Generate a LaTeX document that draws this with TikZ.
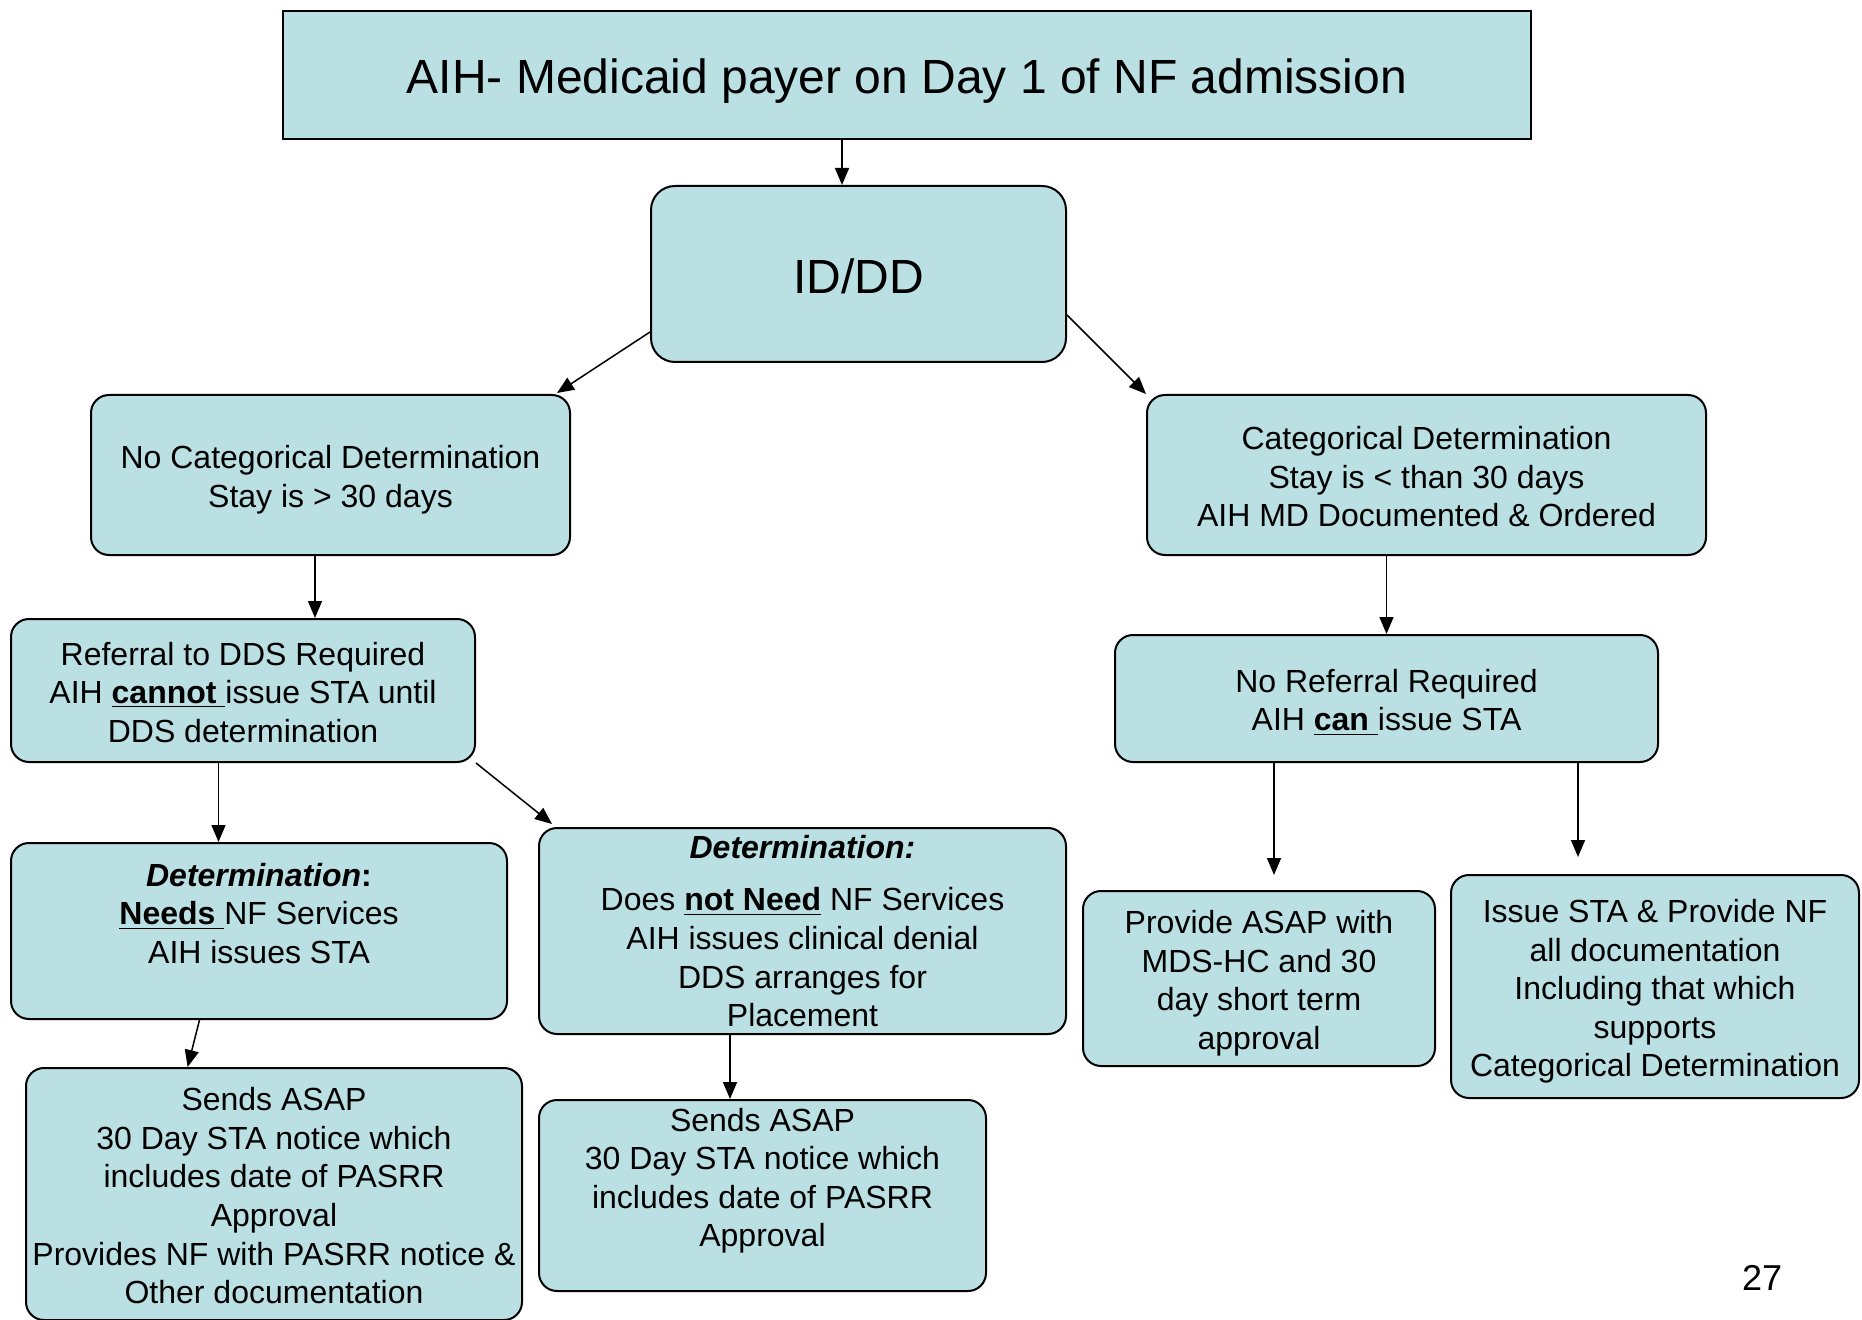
\documentclass[tikz,border=0pt]{standalone}
\usepackage{fontspec}
\setmainfont{Liberation Sans}
\usepackage{xcolor}
\usetikzlibrary{arrows.meta, positioning, calc}
\definecolor{boxfill}{HTML}{BBE0E3}
\newcommand{\boxtop}{\rule{0pt}{16.5pt}}
\newcommand{\boxbot}{\rule[-3.4pt]{0pt}{3.4pt}}

\begin{document}
\begin{tikzpicture}[
   x=0.5pt, y=-0.5pt,
   box/.style = {draw, rectangle, rounded corners=9pt, fill=boxfill, line width=1pt, align=center, inner sep=2pt, font=\fontsize{16}{19.3}\selectfont},
   titlebox/.style = {box, sharp corners, text height=23.2pt, text depth=5.1pt, font=\fontsize{24}{28}\selectfont},
   line/.style = {draw, -{Triangle[length=8.5pt, width=7pt]}, line width=0.75pt}
   ]
  \useasboundingbox (0,0) rectangle (1862,1320);

  % Title box
  \node[titlebox, minimum width=624pt, minimum height=64pt] (title) at (907,75)
   {AIH- Medicaid payer on Day 1 of NF admission};

  % ID/DD box
  \node[box, rounded corners=12pt, minimum width=207.5pt, minimum height=88pt, text height=19.6pt, text depth=0.3pt, font=\fontsize{24}{28}\selectfont] (iddd) at (858.5,274)
   {ID/DD};

  % Left branch
  \node[box, minimum width=239.5pt, minimum height=80pt] (nocat) at (330.5,475)
   {\boxtop No Categorical Determination\\
   Stay is > 30 days\boxbot};
  \node[box, minimum width=232pt, minimum height=71.5pt] (referral) at (243,690.5)
   {\boxtop Referral to DDS Required\\
   AIH \underline{\textbf{cannot }}issue STA until\\
   DDS determination\boxbot};
  \node[box, minimum width=248pt, minimum height=88pt] (needs) at (259,931)
   {\boxtop\textbf{\textit{Determination}}\textbf{:}\\
   \underline{\textbf{Needs }}NF Services\\
   AIH issues STA\\
   \boxbot};
  \node[box, minimum width=263.5pt, minimum height=103pt] (notneed) at (802.5,931)
   {\textbf{\textit{Determination:}}\\[7pt]
   Does \underline{\textbf{not Need}} NF Services\\
   AIH issues clinical denial\\
   DDS arranges for\\
   Placement};
  \node[box, minimum width=248pt, minimum height=126pt] (sendsneeds) at (274,1194)
   {\boxtop Sends ASAP\\
   30 Day STA notice which\\
   includes date of PASRR\\
   Approval\\
   Provides NF with PASRR notice \&\\
   Other documentation\boxbot};
  \node[box, minimum width=223.5pt, minimum height=95.5pt] (sendsplace) at (762.5,1195.5)
   {Sends ASAP\\
   30 Day STA notice which\\
   includes date of PASRR\\
   Approval\rule[-18.2pt]{0pt}{18.2pt}};

  % Right branch
  \node[box, minimum width=279.5pt, minimum height=80pt] (cat) at (1426.5,475)
   {\boxtop Categorical Determination\\
   Stay is < than 30 days\\
   AIH MD Documented \& Ordered\boxbot};
  \node[box, minimum width=271.5pt, minimum height=63.5pt] (noref) at (1386.5,698.5)
   {\boxtop No Referral Required\\
   AIH \underline{\textbf{can }}issue STA\boxbot};
  \node[box, minimum width=176pt, minimum height=87.5pt] (provide) at (1259,978.5)
   {\boxtop Provide ASAP with\\
   MDS-HC and 30\\
   day short term\\
   approval\boxbot};
  \node[box, minimum width=204pt, minimum height=111.5pt] (issuesta) at (1655,986.5)
   {\boxtop Issue STA \& Provide NF\\
   all documentation\\
   Including that which\\
   supports\\
   Categorical Determination\boxbot};

  % Page number
  \node[font=\fontsize{18}{21}\selectfont] (pagenum) at (1762,1278) {27};

  % Free arrow ends
  \coordinate (provtip) at (1274,875);
  \coordinate (issuetip) at (1578,857);

  % Arrows
  \draw[line] ($(iddd.north |- title.south)+(-16.5,0)$) -- ($(iddd.north)+(-16.5,0)$);
  \draw[line] ($(iddd.west)+(0,58)$) -- ($(nocat.north east)+(-14,-1)$);
  \draw[line] ($(iddd.east)+(0,41)$) -- (cat.north west);
  \draw[line] ($(nocat.south)+(-15.5,0)$) -- ($(nocat.south |- referral.north)+(-15.5,0)$);
  \draw[line] (noref.north |- cat.south) -- (noref.north);
  \draw[line] ($(referral.south)+(-24.5,0)$) -- ($(referral.south |- needs.north)+(-24.5,0)$);
  \draw[line] (referral.south east) -- ($(notneed.north west)+(14,-3)$);
  \draw[line] ($(needs.south)+(-59.5,0)$) -- ($(sendsneeds.north)+(-86.4,0)$);
  \draw[line] ($(notneed.south)+(-72.5,0)$) -- ($(notneed.south |- sendsplace.north)+(-72.5,0)$);
  \draw[line] ($(noref.south)+(-112.5,0)$) -- (provtip);
  \draw[line] ($(noref.south)+(191.5,0)$) -- (issuetip);
\end{tikzpicture}
\end{document}
